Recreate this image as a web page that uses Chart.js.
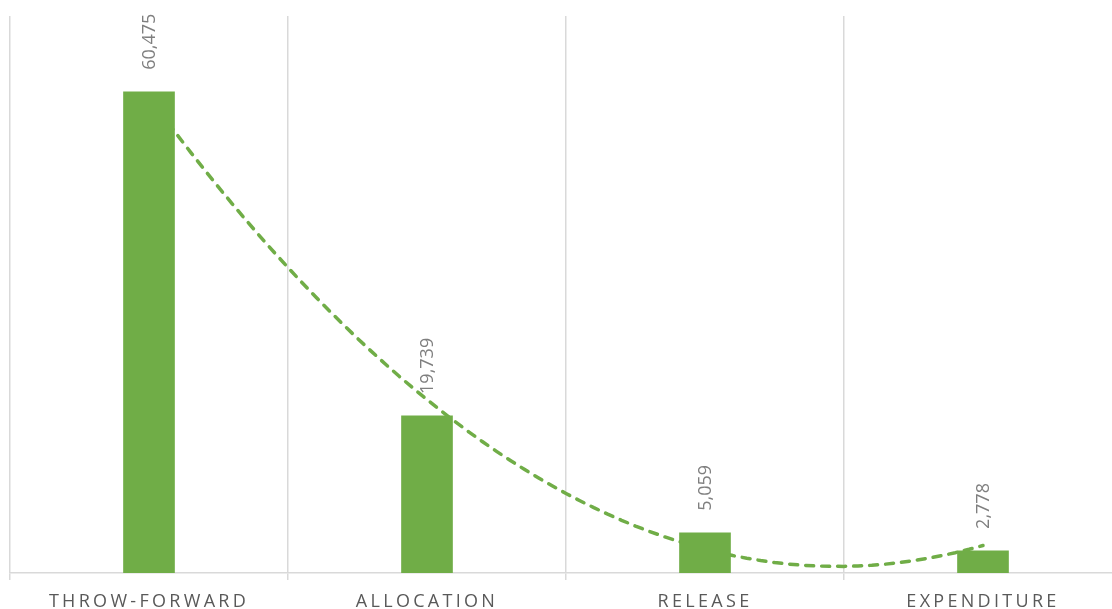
<!DOCTYPE html>
<html>
<head>
<meta charset="utf-8">
<script src="https://cdn.jsdelivr.net/npm/chart.js@4/dist/chart.umd.min.js"></script>
<style>
  html, body { margin: 0; padding: 0; background: #ffffff; overflow: hidden; }
  #wrap { width: 1124px; height: 609px; }
</style>
</head>
<body>
<div id="wrap"><canvas id="c" width="1124" height="609"></canvas></div>
<script>
// ---- data ----
const categories = ['THROW-FORWARD', 'ALLOCATION', 'RELEASE', 'EXPENDITURE'];
const values = [60475, 19739, 5059, 2778];
const yMin = 0;
const yMax = 70000;

// ---- polynomial (order 2) trendline, least-squares fit of the bar values ----
function quadFit(ys) {
  let s = [0, 0, 0, 0, 0], t = [0, 0, 0];
  ys.forEach((y, i) => {
    const x = i + 1;
    for (let k = 0; k < 5; k++) s[k] += Math.pow(x, k);
    for (let k = 0; k < 3; k++) t[k] += y * Math.pow(x, k);
  });
  const A = [[s[0], s[1], s[2], t[0]], [s[1], s[2], s[3], t[1]], [s[2], s[3], s[4], t[2]]];
  for (let i = 0; i < 3; i++) {
    for (let j = i + 1; j < 3; j++) {
      const f = A[j][i] / A[i][i];
      for (let k = i; k < 4; k++) A[j][k] -= f * A[i][k];
    }
  }
  const c = [0, 0, 0];
  for (let i = 2; i >= 0; i--) {
    let v = A[i][3];
    for (let k = i + 1; k < 3; k++) v -= A[i][k] * c[k];
    c[i] = v / A[i][i];
  }
  return c;
}
const coef = quadFit(values);
const trendPoints = [];
for (let i = 0; i <= 60; i++) {
  const idx = i * 3 / 60;            // category index 0..3
  const x = idx + 1;
  trendPoints.push({ x: idx, y: coef[0] + coef[1] * x + coef[2] * x * x });
}

const green = '#70AD47';
const gridGrey = '#d9d9d9';

const dataLabels = {
  id: 'dataLabels',
  afterDatasetsDraw(chart) {
    const ctx = chart.ctx;
    const meta = chart.getDatasetMeta(0);
    ctx.save();
    ctx.letterSpacing = '0px';
    ctx.font = '18px "Open Sans"';
    ctx.fillStyle = '#7f7f7f';
    ctx.textAlign = 'left';
    ctx.textBaseline = 'middle';
    meta.data.forEach((bar, i) => {
      ctx.save();
      ctx.translate(bar.x + 1, bar.y - 22);
      ctx.rotate(-Math.PI / 2);
      ctx.fillText(values[i].toLocaleString('en-US'), 0, 0);
      ctx.restore();
    });
    ctx.restore();
  }
};

const spacing = {
  id: 'spacing',
  beforeDraw(chart) { chart.ctx.letterSpacing = '3.3px'; },
  beforeDatasetsDraw(chart) { chart.ctx.letterSpacing = '0px'; }
};

new Chart(document.getElementById('c'), {
  data: {
    labels: categories,
    datasets: [
      {
        type: 'bar',
        data: values,
        backgroundColor: green,
        borderWidth: 0,
        barThickness: 51,
        grouped: false,
        order: 0,
        xAxisID: 'x',
        yAxisID: 'y'
      },
      {
        type: 'line',
        data: trendPoints,
        borderColor: green,
        borderWidth: 3.5,
        borderDash: [8, 8],
        borderCapStyle: 'round',
        pointRadius: 0,
        tension: 0,
        fill: false,
        order: 1,
        xAxisID: 'xt',
        yAxisID: 'y'
      }
    ]
  },
  options: {
    responsive: false,
    animation: false,
    layout: { padding: { left: 10, top: 16, right: 2, bottom: 0 } },
    plugins: { legend: { display: false }, tooltip: { enabled: false } },
    scales: {
      x: {
        type: 'category',
        offset: true,
        grid: { display: true, offset: true, color: gridGrey, lineWidth: 1.5, tickLength: 7, drawTicks: true },
        border: { display: true, color: gridGrey, width: 1.5 },
        ticks: {
          color: '#595959',
          font: { family: '"Open Sans"', size: 18 },
          padding: 11,
          maxRotation: 0,
          autoSkip: false
        },
        afterFit(scale) { scale.height = 36; }
      },
      xt: {
        type: 'linear',
        display: false,
        min: -0.5,
        max: 3.5
      },
      y: {
        display: false,
        min: yMin,
        max: yMax
      }
    }
  },
  plugins: [spacing, dataLabels]
});
</script>
</body>
</html>
